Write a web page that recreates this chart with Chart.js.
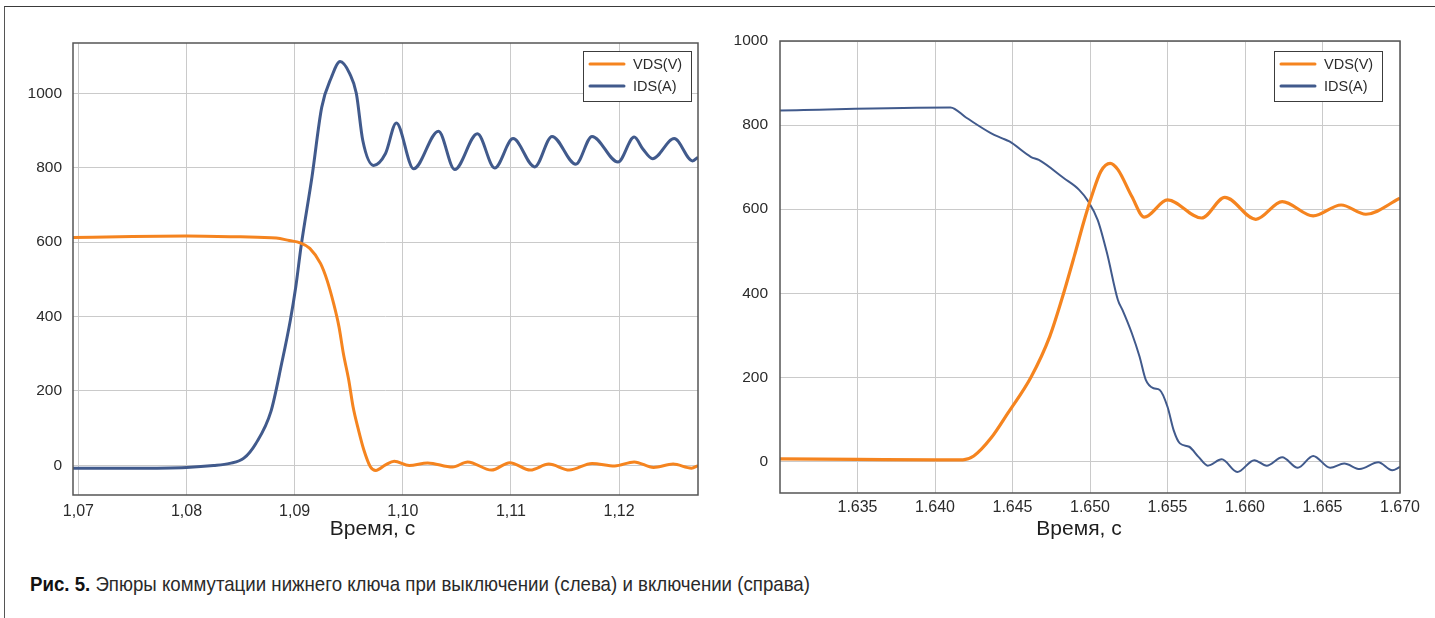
<!DOCTYPE html>
<html>
<head>
<meta charset="utf-8">
<script src="https://cdn.jsdelivr.net/npm/chart.js@4.4.1/dist/chart.umd.min.js"></script>
<style>
  html, body { margin: 0; padding: 0; background: #fff; }
  body { width: 1435px; height: 618px; position: relative; overflow: hidden; font-family: "Liberation Sans", Arial, sans-serif; }
  #frame { position: absolute; left: 4px; top: 6px; width: 1450px; height: 640px; border-top: 1.5px solid #3a3a3a; border-left: 1.5px solid #555; }
  #wl { position: absolute; left: 0; top: 0; }
  #wr { position: absolute; left: 715px; top: 0; }
  #caption { position: absolute; left: 30px; top: 574px; font-family: "Liberation Sans", Arial, sans-serif; font-size: 21px; line-height: 20px; color: #2a2a2a; white-space: nowrap; transform-origin: 0 0; }
  #caption b { font-weight: bold; color: #111; }
</style>
</head>
<body>
<div id="frame"></div>
<div id="wl"><canvas id="cl" width="715" height="560"></canvas></div>
<div id="wr"><canvas id="cr" width="720" height="560"></canvas></div>
<div id="caption"><b>Рис. 5.</b> Эпюры коммутации нижнего ключа при выключении (слева) и включении (справа)</div>
<script>
// ---------- DATA ----------
const seriesNames = ['VDS(V)', 'IDS(A)'];
const axisTitle = 'Время, с';

// Left chart (turn-off)
const leftXTicks = [1.07, 1.08, 1.09, 1.10, 1.11, 1.12];
const leftYTicks = [0, 200, 400, 600, 800, 1000];
const leftVdsT = [1.0695, 1.075, 1.080, 1.085, 1.0883, 1.0895, 1.0905, 1.0914, 1.0924, 1.0930, 1.0936, 1.0941, 1.0945, 1.0950, 1.0954, 1.0959, 1.0964, 1.0970, 1.0975, 1.0984, 1.0992, 1.1006, 1.1023, 1.1046, 1.1060, 1.1082, 1.1099, 1.1118, 1.1135, 1.1154, 1.1175, 1.1196, 1.1214, 1.1232, 1.1250, 1.1267, 1.1273];
const leftVdsV = [612, 615, 616, 614, 611, 604, 598, 583, 542, 497, 435, 372, 301, 229, 157, 95, 41, -4, -14, 1, 11, -1, 6, -5, 9, -13, 7, -13, 3, -13, 5, -2, 9, -6, 3, -8, -1];
const leftIdsT = [1.0695, 1.075, 1.080, 1.0825, 1.0840, 1.0853, 1.0864, 1.0878, 1.0888, 1.0896, 1.0901, 1.0906, 1.0916, 1.0925, 1.0934, 1.0942, 1.0951, 1.0957, 1.0963, 1.0973, 1.0984, 1.0994, 1.1010, 1.1033, 1.1048, 1.1069, 1.1085, 1.1102, 1.1122, 1.1138, 1.1160, 1.1175, 1.1199, 1.1214, 1.1222, 1.1231, 1.1251, 1.1268, 1.1273];
const leftIdsV = [-8, -8, -6, -1, 5, 19, 58, 144, 274, 390, 479, 590, 775, 962, 1043, 1085, 1052, 1000, 873, 806, 838, 920, 797, 898, 795, 891, 799, 878, 802, 884, 809, 884, 815, 882, 850, 824, 878, 818, 828];

// Right chart (turn-on)
const rightXTicks = [1.635, 1.640, 1.645, 1.650, 1.655, 1.660, 1.665, 1.670];
const rightYTicks = [0, 200, 400, 600, 800, 1000];
const rightVdsT = [1.6300, 1.6350, 1.6400, 1.6418, 1.6425, 1.6436, 1.6447, 1.6462, 1.6474, 1.6482, 1.6490, 1.6496, 1.6501, 1.6507, 1.6513, 1.6518, 1.6527, 1.6535, 1.6550, 1.6572, 1.6587, 1.6607, 1.6624, 1.6644, 1.6662, 1.6678, 1.6700];
const rightVdsV = [6, 5, 4, 4, 13, 55, 115, 201, 297, 388, 490, 570, 630, 690, 709, 694, 630, 581, 622, 579, 628, 576, 618, 584, 610, 588, 626];
const rightIdsT = [1.6300, 1.6410, 1.6420, 1.6436, 1.6443, 1.6448, 1.6462, 1.6467, 1.6483, 1.6493, 1.6499, 1.6505, 1.6511, 1.6518, 1.6521, 1.6527, 1.6532, 1.6536, 1.6541, 1.6545, 1.6550, 1.6554, 1.6558, 1.6564, 1.6570, 1.6576, 1.6585, 1.6595, 1.6606, 1.6614, 1.6624, 1.6634, 1.6644, 1.6655, 1.6664, 1.6674, 1.6686, 1.6695, 1.6700];
const rightIdsV = [835, 842, 818, 781, 769, 761, 724, 717, 674, 646, 618, 574, 495, 384, 360, 305, 249, 194, 174, 170, 130, 74, 43, 35, 11, -10, 5, -25, 3, -10, 10, -15, 13, -15, -5, -18, -2, -21, -13];

// ---------- STYLE ----------
const ORANGE = '#f5841f';
const BLUE = '#415a8c';
const GRID = '#cacaca';
const FRAME = '#555555';
const TEXT = '#2b2b2b';

const zip = (t, v) => t.map((x, i) => ({x, y: v[i]}));

const boxPlugin = {
  id: 'boxAndLegend',
  afterDraw(chart, args, opts) {
    const ctx = chart.ctx, a = chart.chartArea;
    ctx.save();
    // plot frame
    ctx.strokeStyle = FRAME;
    ctx.lineWidth = 1.5;
    ctx.strokeRect(a.left, a.top, a.right - a.left, a.bottom - a.top);
    // x axis title (slightly left of the plot centre, as in the reference)
    ctx.fillStyle = '#1e1e1e';
    ctx.font = '21px "Liberation Sans", Arial, sans-serif';
    ctx.textAlign = 'center';
    ctx.textBaseline = 'middle';
    ctx.fillText(opts.title, (a.left + a.right) / 2 + opts.titleDx, a.bottom + opts.titleDy);
    // legend box
    ctx.textAlign = 'left';
    const w = opts.w, h = opts.h;
    const bx = a.right - opts.right - w, by = a.top + opts.top;
    ctx.fillStyle = '#fff';
    ctx.fillRect(bx, by, w, h);
    ctx.strokeStyle = '#3c3c3c';
    ctx.lineWidth = 1;
    ctx.strokeRect(bx + 0.5, by + 0.5, w, h);
    ctx.font = '14.5px "Liberation Sans", Arial, sans-serif';
    chart.data.datasets.forEach((ds, i) => {
      const y = by + 13 + i * 22;
      ctx.strokeStyle = ds.borderColor;
      ctx.lineWidth = 3;
      ctx.lineCap = 'round';
      ctx.beginPath();
      ctx.moveTo(bx + 7, y);
      ctx.lineTo(bx + 41, y);
      ctx.stroke();
      ctx.fillStyle = TEXT;
      ctx.fillText(ds.label, bx + 50, y + 1);
    });
    ctx.restore();
  }
};

function makeChart(id, cfg) {
  return new Chart(document.getElementById(id), {
    type: 'line',
    data: {
      datasets: [
        { label: seriesNames[0], data: cfg.vds, borderColor: ORANGE, borderWidth: cfg.vdsWidth, pointRadius: 0, cubicInterpolationMode: 'monotone', fill: false },
        { label: seriesNames[1], data: cfg.ids, borderColor: BLUE, borderWidth: cfg.idsWidth, pointRadius: 0, cubicInterpolationMode: 'monotone', fill: false }
      ]
    },
    options: {
      responsive: false,
      animation: false,
      devicePixelRatio: 1,
      layout: { padding: cfg.padding },
      plugins: {
        legend: { display: false },
        tooltip: { enabled: false },
        boxAndLegend: Object.assign({ title: axisTitle }, cfg.legend)
      },
      scales: {
        x: {
          type: 'linear',
          min: cfg.xMin, max: cfg.xMax,
          afterBuildTicks: s => { s.ticks = cfg.xTicks.map(v => ({value: v})); },
          afterFit: s => { s.height = 45; },
          grid: { color: GRID, lineWidth: 1, drawTicks: false },
          border: { display: false },
          ticks: {
            padding: cfg.xTickPad,
            maxRotation: 0, autoSkip: false,
            color: TEXT,
            font: { family: '"Liberation Sans", Arial, sans-serif', size: 16 },
            callback: cfg.xFmt
          },
          title: { display: false }
        },
        y: {
          type: 'linear',
          min: cfg.yMin, max: cfg.yMax,
          afterBuildTicks: s => { s.ticks = cfg.yTicks.map(v => ({value: v})); },
          afterFit: s => { s.width = cfg.yWidth; },
          grid: { color: GRID, lineWidth: 1, drawTicks: false },
          border: { display: false },
          ticks: {
            padding: cfg.yTickPad,
            color: TEXT,
            font: { family: '"Liberation Sans", Arial, sans-serif', size: 15.5 },
            callback: v => String(v)
          }
        }
      }
    },
    plugins: [boxPlugin]
  });
}

makeChart('cl', {
  vds: zip(leftVdsT, leftVdsV), ids: zip(leftIdsT, leftIdsV),
  vdsWidth: 3, idsWidth: 3,
  xMin: 1.0695, xMax: 1.1273, yMin: -80, yMax: 1135,
  xTicks: leftXTicks, yTicks: leftYTicks,
  xFmt: v => Number(v).toFixed(2).replace('.', ','),
  padding: { left: 0, right: 17, top: 43, bottom: 20 },
  yWidth: 73, yTickPad: 11, xTickPad: 7,
  legend: { w: 108, h: 50, right: 7, top: 8, titleDx: -13, titleDy: 34 }
});

makeChart('cr', {
  vds: zip(rightVdsT, rightVdsV), ids: zip(rightIdsT, rightIdsV),
  vdsWidth: 3.2, idsWidth: 2,
  xMin: 1.630, xMax: 1.670, yMin: -75, yMax: 1000,
  xTicks: rightXTicks, yTicks: rightYTicks,
  xFmt: v => Number(v).toFixed(3),
  padding: { left: 0, right: 35, top: 41, bottom: 22 },
  yWidth: 65, yTickPad: 12, xTickPad: 5,
  legend: { w: 108, h: 50, right: 18, top: 10, titleDx: -11, titleDy: 36 }
});

// fit caption width to the reference line length
const cap = document.getElementById('caption');
const cw = cap.getBoundingClientRect().width;
if (cw > 0) cap.style.transform = 'scaleX(' + (780 / cw).toFixed(4) + ')';
</script>
</body>
</html>
